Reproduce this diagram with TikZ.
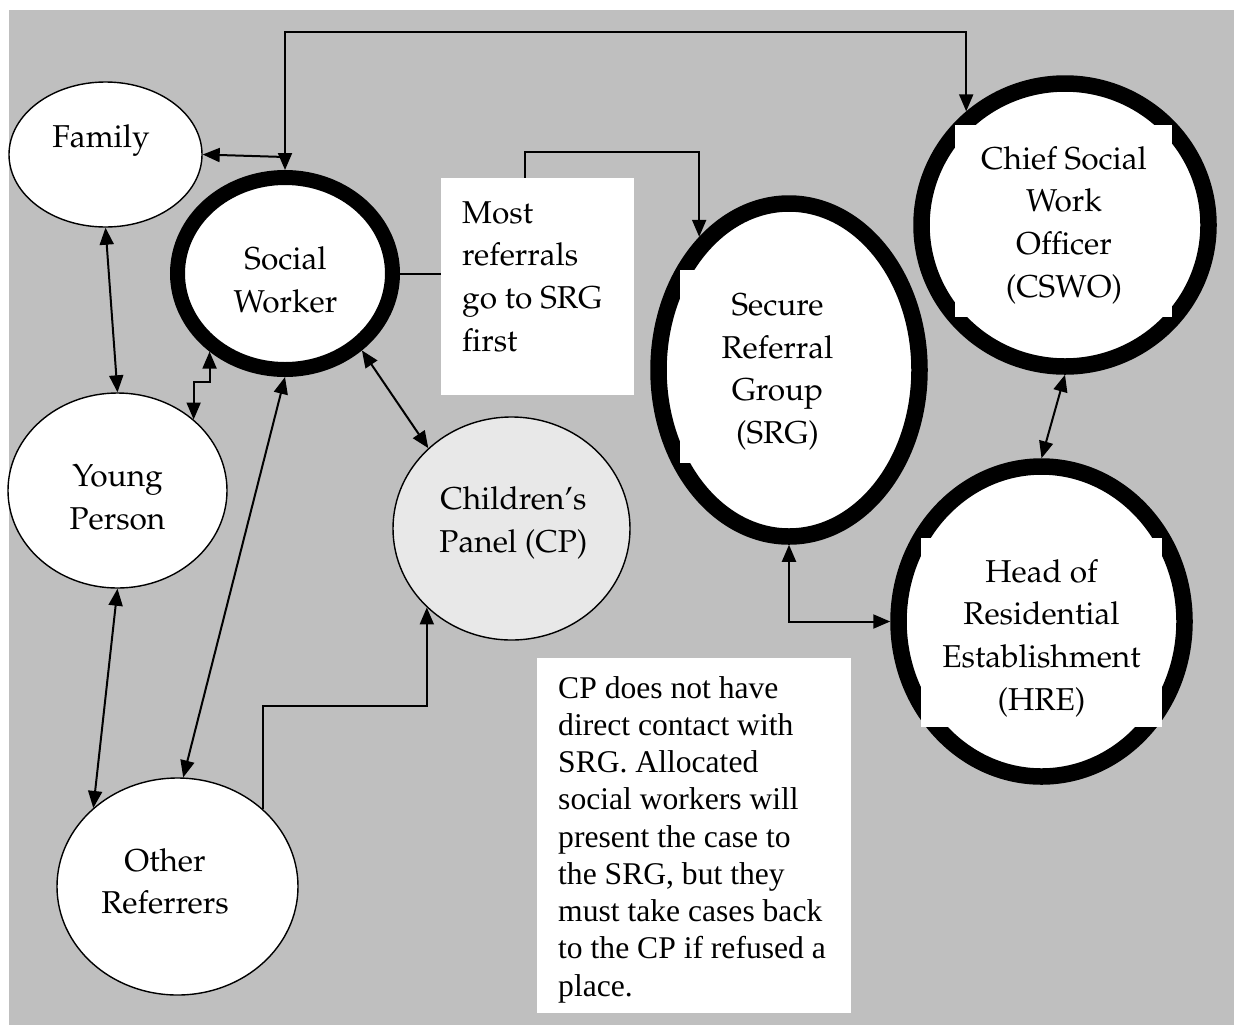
\documentclass[tikz,border=0pt]{standalone}
\usepackage[T1]{fontenc}
\usepackage{fontspec}
\newfontfamily\timesfont{Liberation Serif}
\usetikzlibrary{shapes.geometric,arrows.meta,calc}
\newcommand\palfont{\fontencoding{T1}\fontfamily{ppl}\fontsize{31.6pt}{42.7pt}\selectfont}
\newcommand\cpboxfont{\timesfont\fontsize{31.6pt}{37.25pt}\selectfont}
\definecolor{bggray}{RGB}{191,191,191}
\definecolor{cpgray}{RGB}{232,232,232}
\begin{document}
\begin{tikzpicture}[x=1pt,y=-1pt,
  plainell/.style={ellipse, draw=black, line width=1.4pt, fill=white, inner sep=0pt},
  boldell/.style={ellipse, draw=black, line width=16.5pt, fill=white, inner sep=0pt},
  lbl/.style={font=\palfont, align=center, inner sep=0pt},
  boxnode/.style={fill=white, inner sep=0pt},
  conn/.style={line width=2pt},
  tip/.style={},
  dbl/.style={conn, {Triangle[length=17pt,width=14pt]}-{Triangle[length=17pt,width=14pt]}},
  arr/.style={conn, -{Triangle[length=17pt,width=14pt]}}]
\useasboundingbox (0,0) rectangle (1238,1034);
\fill[white] (0,0) rectangle (1238,1034);
\fill[bggray] (9,10) rectangle (1234,1025);

% ellipses
\node[plainell, minimum width=193pt, minimum height=145pt] (fam) at (105.5,154.5) {};
\node[boldell, line width=15pt, minimum width=215pt, minimum height=192pt] (sw) at (285,273.5) {};
\node[plainell, minimum width=219pt, minimum height=195pt] (yp) at (117.5,490.5) {};
\node[plainell, fill=cpgray, minimum width=237pt, minimum height=223pt] (cp) at (511.5,528.5) {};
\node[plainell, minimum width=241pt, minimum height=217pt] (orr) at (177.5,886.5) {};
\node[boldell, minimum width=261pt, minimum height=333pt] (srg) at (789,370) {};
\node[boldell, minimum width=287pt, minimum height=283pt] (cswo) at (1065,225) {};
\node[boldell, minimum width=286pt, minimum height=310pt] (hre) at (1041.5,621.5) {};

% white text-box backgrounds cutting the thick rings
\fill[white] (680,270) rectangle (870,463);
\fill[white] (955,125) rectangle (1172,317);
\fill[white] (921,538) rectangle (1162,727);

% text boxes
\node[boxnode, minimum width=193pt, minimum height=217pt] (most) at (537.5,286.5) {};
\node[boxnode, minimum width=314pt, minimum height=355pt] (cpbox) at (694,835.5) {};

% labels
\node[lbl] (famt) at (101,141) {Family};
\node[lbl] (swt) at (285.5,280) {Social\\Worker};
\node[lbl] (ypt) at (117.5,497.5) {Young\\Person};
\node[lbl] (cpt) at (513.5,523) {Children's\\Panel (CP)};
\node[lbl] (ort) at (165,881.5) {Other\\Referrers};
\node[lbl] (srgt) at (777.5,372) {Secure\\Referral\\Group\\(SRG)};
\node[lbl] (cswot) at (1064,225) {Chief Social\\Work\\Officer\\(CSWO)};
\node[lbl] (hret) at (1041.5,638) {Head of\\Residential\\Establishment\\(HRE)};
\node[lbl, align=left, anchor=north west] (mostt) at (462,201) {Most\\referrals\\go to SRG\\first};
\node[font=\cpboxfont, align=left, anchor=north west, inner sep=0pt] (cpboxt) at (558,676)
  {CP does not have\\direct contact with\\SRG. Allocated\\social workers will\\present the case to\\the SRG, but they\\must take cases back\\to the CP if refused a\\place.};

% connectors
\coordinate (ytop) at (0,32);
\draw[dbl] (sw.north) -- (sw.north |- ytop) -| (cswo.131.6);
\coordinate (jfam) at ($(sw.north)+(0,-13)$);
\draw[arr] (jfam) -- (fam.east);
\draw[dbl] (fam.south) -- (yp.north);
\coordinate (y382) at (0,382);
\draw[dbl] (sw.226.7) -- (sw.226.7 |- y382) -| (yp.43);
\draw[dbl] (yp.south) -- (orr.137.1);
\draw[dbl] (sw.south) -- (orr.87.6);
\draw[dbl] (sw.-45.2) -- (cp.136.4);
\coordinate (y706) at (0,706);
\draw[arr] (orr.42.9) -- (orr.42.9 |- y706) -| (cp.223.6);
\draw[conn] (sw.east) -- (sw.east -| most.west);
\coordinate (mtop) at ($(most.north west)+(84,0)$);
\coordinate (y152) at (0,152);
\draw[arr] (mtop) -- (mtop |- y152) -| (srg.124.7);
\draw[dbl] (srg.south) |- (hre.west);
\draw[dbl] (cswo.south) -- (hre.north);
\end{tikzpicture}
\end{document}
